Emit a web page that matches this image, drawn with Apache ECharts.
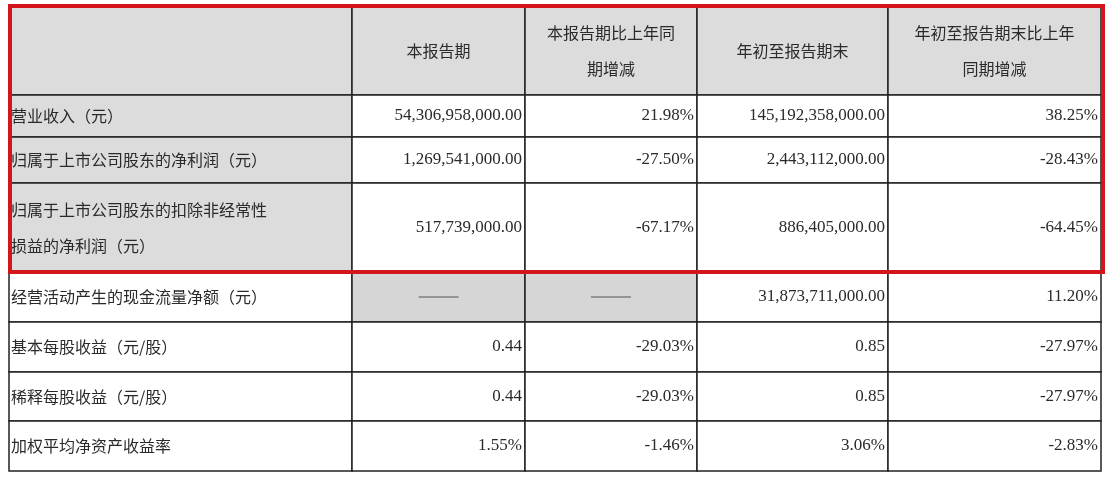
<!DOCTYPE html>
<html><head><meta charset="utf-8">
<script src="https://cdn.jsdelivr.net/npm/echarts@6/dist/echarts.min.js"></script>
<style>html,body{margin:0;padding:0;background:#fff}#c{width:1106px;height:480px}</style>
</head><body><div id="c"></div>
<script>
const headers = ['', '本报告期', '本报告期比上年同\n期增减', '年初至报告期末', '年初至报告期末比上年\n同期增减'];
const rowLabels = ['营业收入（元）', '归属于上市公司股东的净利润（元）', '归属于上市公司股东的扣除非经常性\n损益的净利润（元）', '经营活动产生的现金流量净额（元）', '基本每股收益（元/股）', '稀释每股收益（元/股）', '加权平均净资产收益率'];
const currentPeriod = ['54,306,958,000.00', '1,269,541,000.00', '517,739,000.00', '——', '0.44', '0.44', '1.55%'];
const currentChange = ['21.98%', '-27.50%', '-67.17%', '——', '-29.03%', '-29.03%', '-1.46%'];
const ytd = ['145,192,358,000.00', '2,443,112,000.00', '886,405,000.00', '31,873,711,000.00', '0.85', '0.85', '3.06%'];
const ytdChange = ['38.25%', '-28.43%', '-64.45%', '11.20%', '-27.97%', '-27.97%', '-2.83%'];

// layout (pixel grid)
const colEdges = [9, 352, 525, 697, 888, 1101];
const rowEdges = [7, 95, 137, 183, 272, 322, 372, 421, 471];

const cells = [];
headers.forEach((h, c) => cells.push([c, 0, h, 'center', '#dcdcdc']));
for (let r = 0; r < rowLabels.length; r++) {
  const cols = [rowLabels[r], currentPeriod[r], currentChange[r], ytd[r], ytdChange[r]];
  cols.forEach((t, c) => {
    let fill = '#ffffff';
    if (c === 0 && r < 3) fill = '#dcdcdc';
    if (t === '——') fill = '#d6d6d6';
    const align = c === 0 ? 'left' : (t === '——' ? 'center' : 'right');
    cells.push([c, r + 1, t, align, fill]);
  });
}

const chart = echarts.init(document.getElementById('c'));
chart.setOption({
  animation: false,
  grid: {left: 0, right: 0, top: 0, bottom: 0},
  xAxis: {type: 'value', min: 0, max: 1106, show: false},
  yAxis: {type: 'value', min: 0, max: 480, inverse: true, show: false},
  series: [{
    type: 'custom',
    data: cells,
    renderItem: function (params, api) {
      const c = api.value(0), r = api.value(1);
      const d = cells[params.dataIndex];
      const p0 = api.coord([colEdges[c], rowEdges[r]]);
      const p1 = api.coord([colEdges[c + 1], rowEdges[r + 1]]);
      const w = p1[0] - p0[0], h = p1[1] - p0[1];
      const text = d[2], align = d[3];
      const isHeader = r === 0;
      const isDash = text === '——';
      let tx = align === 'left' ? p0[0] + 2 : align === 'right' ? p1[0] - 3 : p0[0] + w / 2;
      const children = [{
        type: 'rect', shape: {x: p0[0], y: p0[1], width: w, height: h},
        style: {fill: d[4], stroke: '#222', lineWidth: 1.5}
      }];
      if (isDash) {
        children.push({type: 'line', shape: {x1: tx - 20, y1: p0[1] + h / 2, x2: tx + 20, y2: p0[1] + h / 2}, style: {stroke: '#555', lineWidth: 1.2}});
      } else if (text) {
        const cjk = c === 0 || isHeader;
        children.push({
          type: 'text',
          style: {
            text: text, x: tx, y: p0[1] + h / 2, align: align, verticalAlign: 'middle',
            font: cjk ? '16px "Noto Sans CJK SC"' : '17px "Liberation Serif"',
            fill: '#2a2a2a', lineHeight: cjk ? 36 : 20
          }
        });
      }
      return {type: 'group', children: children};
    }
  }],
  graphic: [{
    type: 'rect', shape: {x: 10, y: 6, width: 1093, height: 266},
    style: {fill: null, stroke: '#d4161c', lineWidth: 4}, z: 100
  }]
});
</script></body></html>
